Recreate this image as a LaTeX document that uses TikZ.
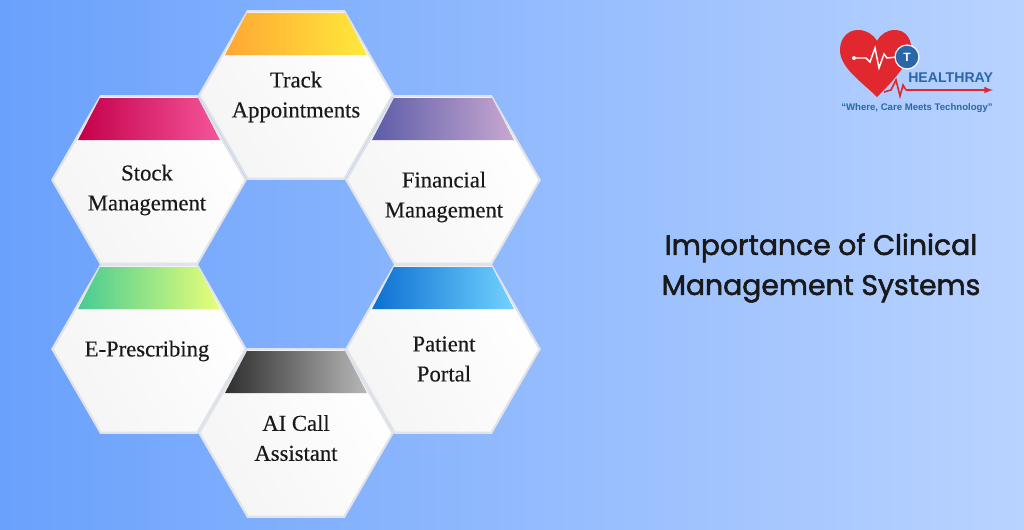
\documentclass[tikz,border=0pt]{standalone}
\usepackage{fontspec}
\setmainfont[FakeBold=0.3]{Liberation Serif}
\newfontfamily\titlefont[FakeBold=1.8]{Poppins}
\newfontfamily\logofont{Liberation Sans}
\usetikzlibrary{positioning}
\usetikzlibrary{calc}
\usetikzlibrary{shapes.geometric}
\definecolor{bgleft}{HTML}{6AA1FC}
\definecolor{bgright}{HTML}{B9D3FF}
\definecolor{hexline}{HTML}{E0E3E8}
\definecolor{logored}{HTML}{E0282E}
\definecolor{logoblue}{HTML}{2A66A8}
\definecolor{trackleft}{HTML}{FFA733}
\definecolor{trackright}{HTML}{FFE93C}
\definecolor{financeleft}{HTML}{5C5CA8}
\definecolor{financeright}{HTML}{C8A8D0}
\definecolor{portalleft}{HTML}{0C6FD2}
\definecolor{portalright}{HTML}{72D2FF}
\definecolor{stockleft}{HTML}{C4004A}
\definecolor{stockright}{HTML}{F4559A}
\definecolor{rxleft}{HTML}{48CB94}
\definecolor{rxright}{HTML}{E8FF78}
\definecolor{aileft}{HTML}{2E2E2E}
\definecolor{airight}{HTML}{B8B8B8}
\tikzset{hexbox/.style={regular polygon, regular polygon sides=6, minimum size=145pt, inner sep=0pt, draw=hexline, line width=1.6pt, left color=black!4, right color=white, shading angle=120}}
\tikzset{hexlabel/.style={align=center, font=\fontsize{17}{22.5}\selectfont, text=black!90}}
\newcommand{\hexcap}[3]{\shade[left color=#2, right color=#3] ($(#1)+(-49,-82)$) -- ($(#1)+(49,-82)$) -- ($(#1)+(71,-40)$) -- ($(#1)+(-71,-40)$) -- cycle;}
\begin{document}
\begin{tikzpicture}[x=0.75pt,y=-0.75pt]
\useasboundingbox (0,0) rectangle (1024,529);
\shade[left color=bgleft, right color=bgright] (0,0) rectangle (1024,529);

\node[hexbox] (track) at (296,95) {};
\node[hexbox] (financial) at (443,180) {};
\node[hexbox] (portal) at (443,349) {};
\node[hexbox] (stock) at (149,180) {};
\node[hexbox] (prescribing) at (149,349) {};
\node[hexbox] (assistant) at (296,433) {};

\hexcap{track}{trackleft}{trackright}
\hexcap{financial}{financeleft}{financeright}
\hexcap{portal}{portalleft}{portalright}
\hexcap{stock}{stockleft}{stockright}
\hexcap{prescribing}{rxleft}{rxright}
\hexcap{assistant}{aileft}{airight}

\node[hexlabel] (tracktext) at (296,97) {Track\\Appointments};
\node[hexlabel] (financialtext) at (444,197) {Financial\\Management};
\node[hexlabel] (portaltext) at (444,359) {Patient\\Portal};
\node[hexlabel] (stocktext) at (147,190) {Stock\\Management};
\node[hexlabel] (prescribingtext) at (147,351) {E-Prescribing};
\node[hexlabel] (assistanttext) at (296,438) {AI Call\\Assistant};

\node[align=center, font=\titlefont\fontsize{21.2}{30}\selectfont, text=black!90] (title) at (821,268) {Importance of Clinical\\Management Systems};

\fill[logored] (877,97) .. controls (862,82) and (840,68) .. (840,50) .. controls (840,38) and (848,30) .. (858,30) .. controls (866,30) and (873,34) .. (877,41) .. controls (881,34) and (887,30) .. (895,30) .. controls (905,30) and (911,38) .. (911,47) .. controls (911,62) and (892,82) .. (877,97) -- cycle;
\coordinate (pulsestart) at (854,58);
\coordinate (badgeedge) at (897,57);
\draw[white, line width=1.1pt] (pulsestart) -- (866,58) -- (870,62) -- (875,48) -- (879,68) -- (884,54) -- (887,58) -- (badgeedge);
\fill[white] (pulsestart) circle (2);
\node[circle, fill=logoblue, draw=white, line width=0.9pt, minimum size=18pt, inner sep=0pt] (badge) at (907,57) {};
\node[text=white, font=\logofont\bfseries\fontsize{9}{9}\selectfont, inner sep=0pt] (badgetext) at (907,57) {T};
\coordinate (redstart) at (884,92);
\coordinate (redend) at (993,90);
\draw[logored, line width=1.2pt] (redstart) -- (891,90) -- (896,80) -- (900,96) -- (903,85) -- (906,90);
\draw[logored, line width=1.2pt, -latex] (906,90) -- (redend);
\node[anchor=west, text=logoblue, font=\logofont\bfseries\fontsize{10.6}{10.6}\selectfont, inner sep=0pt] (brand) at (908,78) {HEALTHRAY};
\node[text=logoblue, font=\logofont\bfseries\fontsize{7.2}{7}\selectfont, inner sep=0pt] (tagline) at (917,108) {“Where, Care Meets Technology”};
\end{tikzpicture}
\end{document}
